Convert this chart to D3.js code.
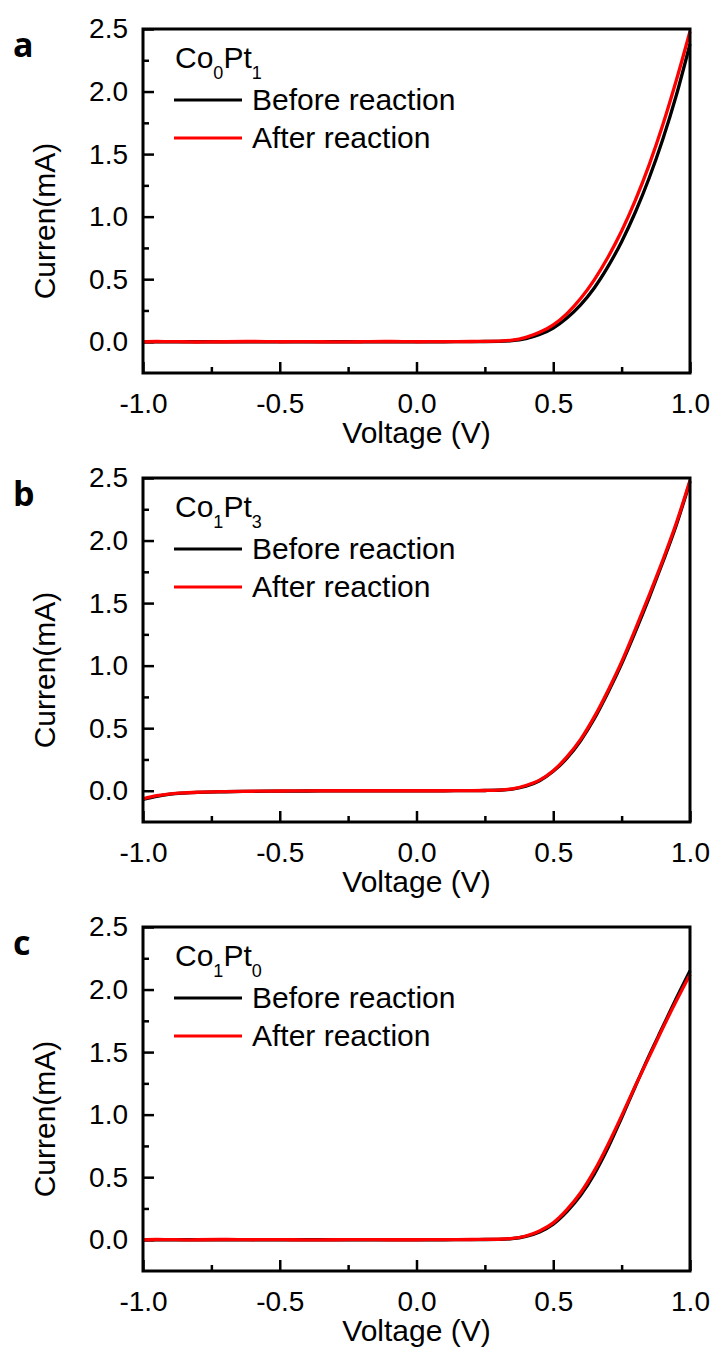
<!DOCTYPE html>
<html>
<head>
<meta charset="utf-8">
<script src="https://cdn.jsdelivr.net/npm/d3@7"></script>
<style>
  body { margin: 0; background: #fff; }
  svg text { font-family: "Liberation Sans", Arial, sans-serif; fill: #000; }
</style>
</head>
<body>
<div id="chart"></div>
<script>
// shared voltage sweep (V)
const voltage = [-1.0, -0.95, -0.9, -0.85, -0.8, -0.7, -0.6, -0.5, -0.4, -0.3, -0.2, -0.1, 0.0, 0.1, 0.2,
    0.25, 0.3, 0.35, 0.4, 0.45, 0.5, 0.55, 0.6, 0.65, 0.7, 0.75, 0.8, 0.85, 0.9, 0.95, 1.0];

// current (mA), panel a: Co0Pt1
const aBefore = [0, 0, 0, 0, 0, 0, 0, 0, 0, 0, 0, 0, 0, 0, 0.001,
    0.002, 0.003, 0.008, 0.025, 0.058, 0.11, 0.19, 0.295, 0.43, 0.60, 0.80, 1.035, 1.305, 1.615, 1.97, 2.38];
const aAfter = [0, 0.002, 0.001, 0, -0.002, 0, 0.002, 0, 0.001, -0.001, 0, 0.002, 0, 0.001, 0.002,
    0.003, 0.005, 0.012, 0.035, 0.075, 0.135, 0.225, 0.345, 0.495, 0.675, 0.885, 1.13, 1.41, 1.73, 2.09, 2.48];

// panel b: Co1Pt3
const bBefore = [-0.07, -0.045, -0.028, -0.019, -0.013, -0.008, -0.005, -0.003, -0.002, -0.001, 0, 0, 0, 0, 0.001,
    0.002, 0.004, 0.013, 0.036, 0.08, 0.155, 0.26, 0.40, 0.575, 0.785, 1.015, 1.27, 1.54, 1.825, 2.125, 2.47];
const bAfter = [-0.065, -0.04, -0.025, -0.017, -0.012, -0.007, -0.004, -0.002, -0.001, 0, 0, 0, 0, 0, 0.001,
    0.002, 0.005, 0.015, 0.042, 0.085, 0.16, 0.27, 0.41, 0.59, 0.80, 1.03, 1.29, 1.56, 1.84, 2.14, 2.48];

// panel c: Co1Pt0
const cBefore = [0, 0, 0, 0, 0, 0, 0, 0, 0, 0, 0, 0, 0, 0, 0.001,
    0.002, 0.003, 0.008, 0.026, 0.062, 0.125, 0.225, 0.355, 0.525, 0.735, 0.975, 1.225, 1.47, 1.70, 1.93, 2.15];
const cAfter = [0, 0.002, 0.001, -0.001, 0, 0.002, 0, 0.001, -0.001, 0, 0.001, 0, 0, 0.001, 0.002,
    0.003, 0.004, 0.01, 0.03, 0.07, 0.135, 0.24, 0.375, 0.55, 0.76, 0.99, 1.23, 1.46, 1.69, 1.91, 2.12];

const panelLetters = ["a", "b", "c"];
const coIndex = ["0", "1", "1"];
const ptIndex = ["1", "3", "0"];
const seriesNames = ["Before reaction", "After reaction"];
const seriesColors = ["#000000", "#ff0000"];

const xMajor = [-1.0, -0.5, 0.0, 0.5, 1.0];
const xMinor = [-0.75, -0.25, 0.25, 0.75];
const yMajor = [0.0, 0.5, 1.0, 1.5, 2.0, 2.5];
const yMinor = [0.25, 0.75, 1.25, 1.75, 2.25];

const panels = [
    {before: aBefore, after: aAfter},
    {before: bBefore, after: bAfter},
    {before: cBefore, after: cAfter}
];

const W = 715, H = 1352;
const left = 143, right = 690, plotH = 344;
const tops = [29, 478, 927];

// plain hyphen for negatives, like the original figure
const fmt = d => d3.format(".1f")(d).replace("\u2212", "-");

const svg = d3.select("#chart")
    .append("svg")
    .attr("width", W)
    .attr("height", H);

const x = d3.scaleLinear().domain([-1.0, 1.0]).range([left, right]);

panels.forEach((p, i) => {
    const top = tops[i];
    const y = d3.scaleLinear().domain([-0.25, 2.5]).range([top + plotH, top]);
    const g = svg.append("g");

    // minor ticks
    g.append("g")
        .attr("transform", `translate(0,${top + plotH})`)
        .call(d3.axisBottom(x).tickValues(xMinor).tickSize(-6).tickFormat(""))
        .call(a => a.select(".domain").remove())
        .call(a => a.selectAll("line").attr("stroke-width", 2.5));
    g.append("g")
        .attr("transform", `translate(${left},0)`)
        .call(d3.axisLeft(y).tickValues(yMinor).tickSize(-6).tickFormat(""))
        .call(a => a.select(".domain").remove())
        .call(a => a.selectAll("line").attr("stroke-width", 2.5));

    // major ticks with labels
    g.append("g")
        .attr("transform", `translate(0,${top + plotH})`)
        .call(d3.axisBottom(x).tickValues(xMajor).tickSize(-11).tickPadding(20).tickFormat(fmt))
        .call(a => a.select(".domain").remove())
        .call(a => a.selectAll("line").attr("stroke-width", 2.5))
        .call(a => a.selectAll("text").attr("font-size", 28));
    g.append("g")
        .attr("transform", `translate(${left},0)`)
        .call(d3.axisLeft(y).tickValues(yMajor).tickSize(-11).tickPadding(15).tickFormat(fmt))
        .call(a => a.select(".domain").remove())
        .call(a => a.selectAll("line").attr("stroke-width", 2.5))
        .call(a => a.selectAll("text").attr("font-size", 28));

    // curves
    const line = d3.line()
        .x((d, k) => x(voltage[k]))
        .y(d => y(d))
        .curve(d3.curveMonotoneX);

    [p.before, p.after].forEach((s, k) => {
        g.append("path")
            .datum(s)
            .attr("d", line)
            .attr("fill", "none")
            .attr("stroke", seriesColors[k])
            .attr("stroke-width", 3.3)
            .attr("stroke-linejoin", "round");
    });

    // frame
    g.append("rect")
        .attr("x", left)
        .attr("y", top)
        .attr("width", right - left)
        .attr("height", plotH)
        .attr("fill", "none")
        .attr("stroke", "#000")
        .attr("stroke-width", 3);

    // axis titles
    g.append("text")
        .attr("x", (left + right) / 2)
        .attr("y", top + plotH + 70)
        .attr("text-anchor", "middle")
        .attr("font-size", 30)
        .text("Voltage (V)");

    g.append("text")
        .attr("transform", `translate(55,${top + plotH / 2 + 20}) rotate(-90)`)
        .attr("text-anchor", "middle")
        .attr("font-size", 30)
        .text("Curren(mA)");

    // panel letter
    g.append("text")
        .attr("x", 13)
        .attr("y", top + 28)
        .attr("font-weight", "bold")
        .attr("font-size", 34)
        .style("font-family", "'Open Sans', sans-serif")
        .text(panelLetters[i]);

    // legend
    const title = g.append("text")
        .attr("x", 175)
        .attr("y", top + 39)
        .attr("font-size", 30);
    title.append("tspan").text("Co");
    title.append("tspan").attr("font-size", 18).attr("dy", 11).text(coIndex[i]);
    title.append("tspan").attr("dy", -11).text("Pt");
    title.append("tspan").attr("font-size", 18).attr("dy", 11).text(ptIndex[i]);

    seriesNames.forEach((name, k) => {
        const base = top + 81 + k * 38;
        g.append("line")
            .attr("x1", 174)
            .attr("x2", 242)
            .attr("y1", base - 10)
            .attr("y2", base - 10)
            .attr("stroke", seriesColors[k])
            .attr("stroke-width", 3);
        g.append("text")
            .attr("x", 252)
            .attr("y", base)
            .attr("font-size", 30)
            .text(name);
    });
});
</script>
</body>
</html>
